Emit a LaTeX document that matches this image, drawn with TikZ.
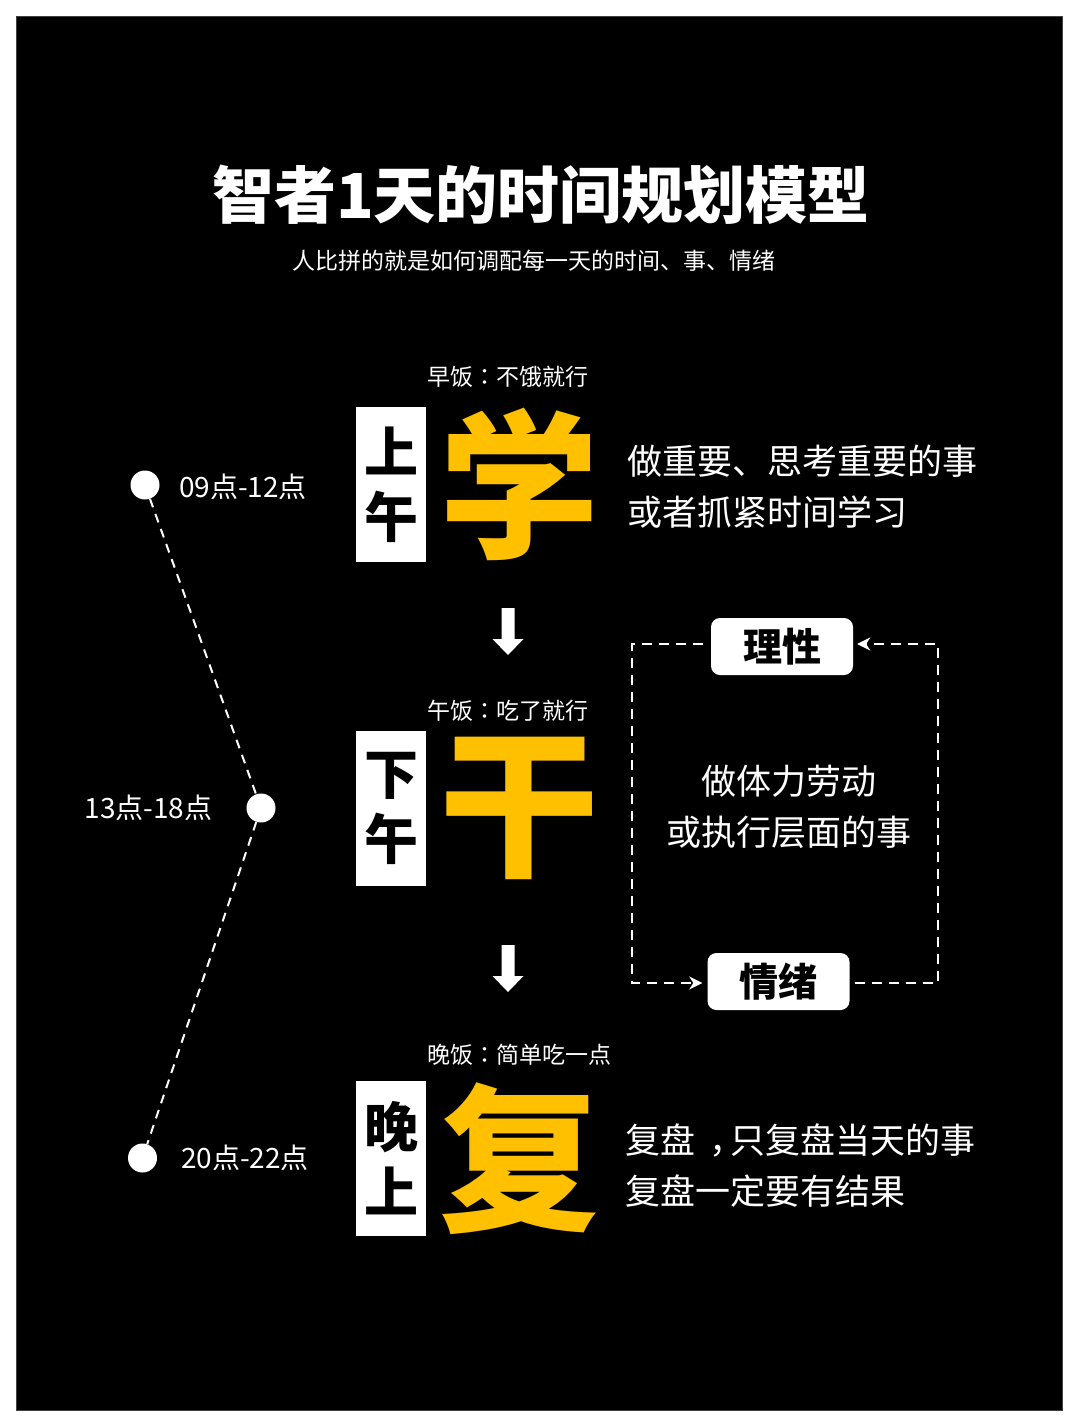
\documentclass[tikz,border=0pt]{standalone}
\usepackage{fontspec}
\usetikzlibrary{arrows.meta}
\newfontfamily\cjk{Noto Sans CJK SC}
\newfontfamily\cjktc{Noto Sans CJK TC}
\definecolor{gold}{RGB}{255,192,0}
\tikzset{
  meal/.style={text=white, font=\cjk\fontsize{23}{28}\selectfont, inner sep=0pt, anchor=west},
  desc/.style={text=white, font=\cjk\fontsize{35}{51}\selectfont, inner sep=0pt, align=left},
  tagbox/.style={fill=white, text=black, minimum width=70pt, minimum height=155pt, inner sep=0pt,
    font=\cjk\bfseries\fontsize{54}{65}\selectfont, align=center},
  bigchar/.style={text=gold, font=\cjk\bfseries\fontsize{160}{160}\selectfont, inner sep=0pt},
  tdot/.style={circle, fill=white, minimum size=29pt, inner sep=0pt},
  tlabel/.style={text=white, font=\cjk\fontsize{28}{30}\selectfont, inner sep=0pt},
  tline/.style={draw=white, line width=2pt, dash pattern=on 9pt off 7pt},
  loopline/.style={draw=white, line width=2.2pt, dash pattern=on 10pt off 7pt},
  pill/.style={fill=white, text=black, rounded corners=9pt, minimum width=142pt, minimum height=57pt,
    inner sep=0pt, font=\cjk\bfseries\fontsize{39}{42}\selectfont},
  tip/.style={-{Stealth[length=13pt,width=13pt,inset=4pt]}},
  blockarrow/.style={fill=white}
}
\begin{document}
\begin{tikzpicture}[x=1pt,y=-1pt]
\useasboundingbox (0,0) rectangle (1080,1428);
\fill[white] (0,0) rectangle (1080,1428);
\fill[black!75] (16,16) rectangle (1063,1411);
\fill[black] (17,17) rectangle (1062,1410);

% title
\node[text=white, font=\cjk\bfseries\fontsize{62}{66}\selectfont, inner sep=0pt] (title) at (541,195) {智者1天的时间规划模型};
\node[text=white, font=\cjk\fontsize{23}{26}\selectfont, inner sep=0pt] (sub) at (534,261) {人比拼的就是如何调配每一天的时间、事、情绪};

% morning
\node[meal] (m1) at (427,377) {早饭{\cjktc：}不饿就行};
\node[tagbox] (t1) at (391,484.5) {上\\午};
\node[bigchar] (b1) at (519,484) {学};
\node[desc, anchor=west] (d1) at (627,487) {做重要、思考重要的事\\或者抓紧时间学习};

% afternoon
\node[meal] (m2) at (427,711) {午饭{\cjktc：}吃了就行};
\node[tagbox] (t2) at (391,808.5) {下\\午};
\node[bigchar] (b2) at (519,808.5) {干};
\node[desc, align=center] (d2) at (789,807) {做体力劳动\\或执行层面的事};

% evening
\node[meal] (m3) at (427,1055) {晚饭{\cjktc：}简单吃一点};
\node[tagbox] (t3) at (391,1158.5) {晚\\上};
\node[bigchar] (b3) at (519,1159) {复};
\node[desc, anchor=west] (d3) at (625,1166) {复盘\kern0.4em，\kern-0.4em只复盘当天的事\\复盘一定要有结果};

% block arrows
\coordinate (a1) at (508,608);
\coordinate (a2) at (508,945);
\foreach \c in {a1,a2}{
  \fill[blockarrow] (\c) ++(-6.5,0) -- ++(13,0) -- ++(0,31) -- ++(9,0) -- ++(-15.5,16) -- ++(-15.5,-16) -- ++(9,0) -- cycle;
}

% timeline
\node[tdot] (p1) at (145,485) {};
\node[tdot] (p2) at (261,808) {};
\node[tdot] (p3) at (142.5,1158) {};
\draw[tline] (p1) -- (p2);
\draw[tline] (p2) -- (p3);
\node[tlabel] (l1) at (243,487) {09点-12点};
\node[tlabel] (l2) at (148.5,808) {13点-18点};
\node[tlabel] (l3) at (245,1158) {20点-22点};

% loop
\node[pill] (r) at (782,646.5) {理性};
\node[pill] (e) at (778.5,981.5) {情绪};
\coordinate (cTL) at (632,644);
\coordinate (cBL) at (632,983);
\coordinate (cTR) at (938,644);
\coordinate (cBR) at (938,983);
\draw[loopline, tip, shorten >=5pt] ([xshift=-8pt]r.west |- cTL) -- (cTL) -- (cBL) -- (e.west |- cBL);
\draw[loopline, tip, shorten >=4pt] ([xshift=5pt]e.east |- cBR) -- (cBR) -- (cTR) -- (r.east |- cTR);
\end{tikzpicture}
\end{document}
